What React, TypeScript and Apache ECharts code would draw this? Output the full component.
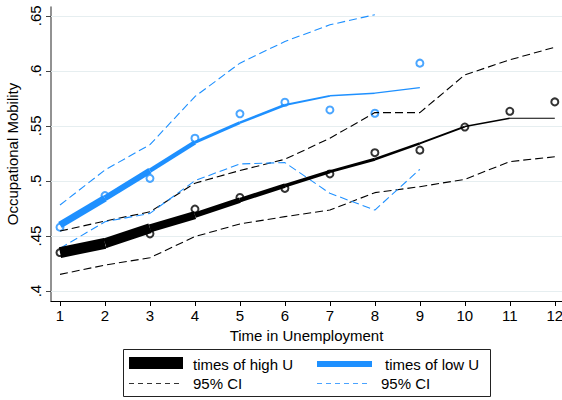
import React, { useEffect, useRef } from "react";
import * as echarts from "echarts";

const xs = [1, 2, 3, 4, 5, 6, 7, 8, 9, 10, 11, 12];
const xTicks = [1, 2, 3, 4, 5, 6, 7, 8, 9, 10, 11, 12];
const yTicks = [0.4, 0.45, 0.5, 0.55, 0.6, 0.65];
const yTickLabels = [".4", ".45", ".5", ".55", ".6", ".65"];

// times of high U
const highPts = [0.435, 0.443, 0.452, 0.4745, 0.485, 0.4933, 0.5064, 0.5257, 0.528, 0.549, 0.5633, 0.5718];
const highFit = [0.435, 0.4434, 0.457, 0.469, 0.4827, 0.4957, 0.5085, 0.5197, 0.5342, 0.5494, 0.557, 0.557];
const highUpper = [0.4545, 0.4636, 0.472, 0.498, 0.5095, 0.5197, 0.5388, 0.5621, 0.5621, 0.5964, 0.61, 0.6215];
const highLower = [0.4152, 0.4236, 0.4303, 0.4495, 0.461, 0.4676, 0.4736, 0.4894, 0.4948, 0.5015, 0.5176, 0.522];

// times of low U
const lowPts = [0.458, 0.4867, 0.5024, 0.5388, 0.561, 0.5715, 0.5645, 0.5615, 0.607];
const lowFit = [0.46, 0.4843, 0.5094, 0.535, 0.553, 0.569, 0.5773, 0.5797, 0.5848];
const lowUpper = [0.4782, 0.51, 0.533, 0.5767, 0.607, 0.6267, 0.6418, 0.651, null];
const lowLower = [0.4388, 0.463, 0.4706, 0.5003, 0.5155, 0.5167, 0.4888, 0.4736, 0.5106];

// segment line widths (weight of each segment)
const highWidths = [11, 10, 8, 5.5, 4.5, 3.5, 3, 2.5, 2, 1.6, 1.1];
const lowWidths = [7, 6, 4.5, 3, 2.5, 2, 1.5, 1.2];

const BLACK = "#000000";
const BLUE = "#1e90ff";
const FONT = "'Liberation Sans', Arial, sans-serif";
const FS = 15;

function pairs(vals: (number | null)[]) {
  return vals.map((v, i) => [xs[i], v]);
}

function segments(vals: number[], widths: number[], color: string) {
  const out: any[] = [];
  for (let i = 0; i < vals.length - 1; i++) {
    out.push({
      type: "line",
      data: [
        [xs[i], vals[i]],
        [xs[i + 1], vals[i + 1]],
      ],
      showSymbol: false,
      symbol: "none",
      silent: true,
      z: 4,
      lineStyle: { color, width: widths[i], cap: "butt", join: "miter" },
    });
  }
  return out;
}

export default function App() {
  const ref = useRef<HTMLDivElement>(null);
  useEffect(() => {
    if (!ref.current) return;
    const chart = echarts.init(ref.current, null, { renderer: "svg" });
    const option: any = {
      animation: false,
      backgroundColor: "#ffffff",
      textStyle: { fontFamily: FONT },
      grid: { left: 51, right: 0, top: 7, bottom: 99, containLabel: false, outerBoundsMode: "none" },
      xAxis: {
        type: "value",
        min: 0.8,
        max: 12.16,
        name: "Time in Unemployment",
        nameLocation: "middle",
        nameGap: 23,
        nameTextStyle: { color: "#000", fontSize: FS, fontFamily: FONT },
        axisLine: { show: true, onZero: false, lineStyle: { color: "#000", width: 1.2 } },
        axisTick: { show: true, length: 5, customValues: xTicks, lineStyle: { color: "#000" } },
        axisLabel: { customValues: xTicks, color: "#000", fontSize: FS, fontFamily: FONT, margin: 7 },
        splitLine: { show: false },
      },
      yAxis: {
        type: "value",
        min: 0.391,
        max: 0.658,
        name: "Occupational Mobility",
        nameLocation: "middle",
        nameGap: 28,
        nameRotate: 90,
        nameTextStyle: { color: "#000", fontSize: FS, fontFamily: FONT },
        axisLine: { show: true, onZero: false, lineStyle: { color: "#6e6e6e", width: 1.5 } },
        axisTick: { show: true, length: 5, customValues: yTicks, lineStyle: { color: "#444" } },
        axisLabel: {
          customValues: yTicks,
          rotate: 90,
          color: "#000",
          fontSize: FS,
          fontFamily: FONT,
          margin: 8,
          formatter: (v: number) => {
            const i = yTicks.findIndex((t) => Math.abs(t - v) < 1e-6);
            return i >= 0 ? yTickLabels[i] : "";
          },
        },
        splitLine: { show: false },
      },
      series: [
        {
          type: "scatter",
          data: pairs(highPts),
          symbol: "emptyCircle",
          symbolSize: 7,
          z: 2,
          itemStyle: { color: BLACK, borderColor: BLACK, borderWidth: 1.4 },
          markLine: {
            silent: true,
            symbol: "none",
            label: { show: false },
            lineStyle: { color: "#e6eef0", width: 1, type: "solid" },
            data: yTicks.map((v) => ({ yAxis: v })),
            z: 1,
          },
        },
        {
          type: "scatter",
          data: pairs(lowPts),
          symbol: "emptyCircle",
          symbolSize: 7,
          z: 2,
          itemStyle: { color: BLUE, borderColor: BLUE, borderWidth: 1.4 },
        },
        {
          type: "line",
          data: pairs(highUpper),
          showSymbol: false,
          symbol: "none",
          z: 3,
          lineStyle: { color: BLACK, width: 1.1, type: [8, 4] },
        },
        {
          type: "line",
          data: pairs(highLower),
          showSymbol: false,
          symbol: "none",
          z: 3,
          lineStyle: { color: BLACK, width: 1.1, type: [8, 4] },
        },
        {
          type: "line",
          data: pairs(lowUpper),
          showSymbol: false,
          symbol: "none",
          connectNulls: false,
          z: 3,
          lineStyle: { color: BLUE, width: 1.1, type: [8, 4] },
        },
        {
          type: "line",
          data: pairs(lowLower),
          showSymbol: false,
          symbol: "none",
          z: 3,
          lineStyle: { color: BLUE, width: 1.1, type: [8, 4] },
        },
        ...segments(highFit, highWidths, BLACK),
        ...segments(lowFit, lowWidths, BLUE),
      ],
      graphic: [
        {
          type: "rect",
          shape: { x: 123.5, y: 349.5, width: 367, height: 47 },
          style: { fill: "#fff", stroke: "#222", lineWidth: 1 },
          z: 10,
        },
        { type: "rect", shape: { x: 129, y: 357, width: 54, height: 12 }, style: { fill: BLACK }, z: 11 },
        { type: "rect", shape: { x: 317, y: 361, width: 55, height: 6 }, style: { fill: BLUE }, z: 11 },
        {
          type: "line",
          shape: { x1: 129, y1: 383.5, x2: 183, y2: 383.5 },
          style: { stroke: "#333", lineWidth: 1, lineDash: [5, 4] },
          z: 11,
        },
        {
          type: "line",
          shape: { x1: 317, y1: 383.5, x2: 368, y2: 383.5 },
          style: { stroke: "#4aa3ff", lineWidth: 1, lineDash: [5, 4] },
          z: 11,
        },
        {
          type: "text",
          x: 193,
          y: 364,
          style: { text: "times of high U", fill: "#000", fontSize: FS, fontFamily: FONT, verticalAlign: "middle" },
          z: 11,
        },
        {
          type: "text",
          x: 385,
          y: 364,
          style: { text: "times of low U", fill: "#000", fontSize: FS, fontFamily: FONT, verticalAlign: "middle" },
          z: 11,
        },
        {
          type: "text",
          x: 193,
          y: 383.5,
          style: { text: "95% CI", fill: "#000", fontSize: FS, fontFamily: FONT, verticalAlign: "middle" },
          z: 11,
        },
        {
          type: "text",
          x: 381,
          y: 383.5,
          style: { text: "95% CI", fill: "#000", fontSize: FS, fontFamily: FONT, verticalAlign: "middle" },
          z: 11,
        },
      ],
    };
    chart.setOption(option);
    return () => chart.dispose();
  }, []);
  return (
    <div
      ref={ref}
      style={{ position: "fixed", left: 0, top: 0, width: 562, height: 400, background: "#fff" }}
    />
  );
}
